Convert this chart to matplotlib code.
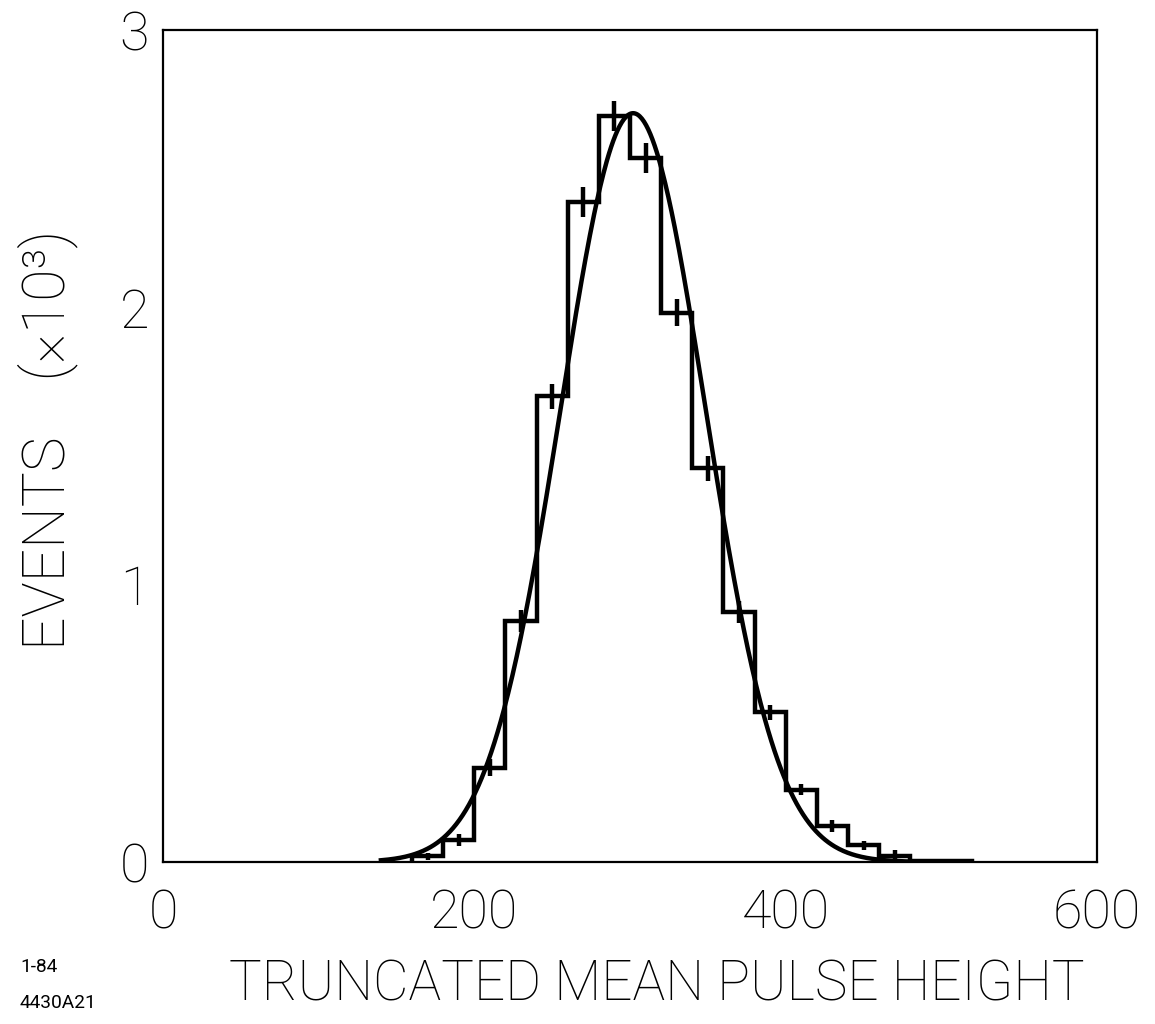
import numpy as np
import matplotlib
matplotlib.use("Agg")
import matplotlib.pyplot as plt
from matplotlib import font_manager as fm

# Pick a narrow/light sans face for the lettering
_names = {f.name for f in fm.fontManager.ttflist}
if "Liberation Sans Narrow" in _names:
    FONT = dict(family=["Liberation Sans Narrow", "DejaVu Sans"])
    NOTE_FONT = dict(FONT)
elif "Roboto" in _names:
    FONT = dict(family=["Roboto", "DejaVu Sans"], weight="light")
    NOTE_FONT = dict(family=["Roboto", "DejaVu Sans"], weight="normal")
else:
    FONT = dict(family=["DejaVu Sans"], stretch="condensed")
    NOTE_FONT = dict(FONT)

# Histogram of truncated mean pulse height (counts in units of 10^3 events)
bin_edges = [160, 180, 200, 220, 240, 260, 280, 300, 320, 340,
             360, 380, 400, 420, 440, 460, 480, 500, 520]
counts = [0.02, 0.08, 0.34, 0.87, 1.68, 2.38, 2.69, 2.54, 1.98,
          1.42, 0.90, 0.54, 0.26, 0.13, 0.06, 0.02, 0.005, 0.005]

# Statistical errors on the first 16 bins
err_centers = [170, 190, 210, 230, 250, 270, 290, 310,
               330, 350, 370, 390, 410, 430, 450, 470]
errors = [0.012, 0.022, 0.030, 0.040, 0.045, 0.054, 0.055, 0.054,
          0.049, 0.045, 0.040, 0.027, 0.020, 0.022, 0.015, 0.022]

# Gaussian fit parameters
fit_amp = 2.70
fit_mean = 302.0
fit_sigma = 46.5
fit_range = (140, 480)

x_ticks = [0, 200, 400, 600]
y_ticks = [0, 1, 2, 3]
x_ticklabels = ["0", "200", "400", "600"]
y_ticklabels = ["0", "1", "2", "3"]

W, H = 1155, 1024
fig = plt.figure(figsize=(W / 100, H / 100), dpi=100)
ax = fig.add_axes([0.1411, 0.1582, 0.8087, 0.8125])

ax.stairs(counts, bin_edges, color="black", lw=3.2, baseline=0)

err_vals = counts[:len(err_centers)]
ax.vlines(err_centers,
          [v - e for v, e in zip(err_vals, errors)],
          [v + e for v, e in zip(err_vals, errors)],
          color="black", lw=3.2)

xf = np.linspace(fit_range[0], fit_range[1], 500)
yf = fit_amp * np.exp(-0.5 * ((xf - fit_mean) / fit_sigma) ** 2)
ax.plot(xf, yf, color="black", lw=3.2)

ax.set_xlim(0, 600)
ax.set_ylim(0, 3)

ax.set_xticks(x_ticks)
ax.set_yticks(y_ticks)
ax.set_xticklabels(x_ticklabels, **FONT)
ax.set_yticklabels(y_ticklabels, **FONT)
ax.set_xticks([200, 400], minor=True)
ax.set_yticks([1, 2], minor=True)
ax.tick_params(which="major", length=0, labelsize=43)
ax.tick_params(axis="x", which="major", pad=19)
ax.tick_params(axis="y", which="major", pad=10)
ax.tick_params(which="minor", direction="in", length=24, width=1.4,
               top=True, bottom=True, left=True, right=True)
for s in ax.spines.values():
    s.set_linewidth(1.6)

ylab = fig.text(48 / W, 1 - 440 / H, "EVENTS    (×10³)", fontsize=46,
                rotation=90, ha="center", va="center", **FONT)
xlab = fig.text(657 / W, 1 - 985 / H, "TRUNCATED MEAN PULSE HEIGHT",
                fontsize=46, ha="center", va="center", **FONT)
note1 = fig.text(20 / W, 1 - 967 / H, "1-84", fontsize=15,
                 ha="left", va="center", **NOTE_FONT)
note2 = fig.text(20 / W, 1 - 1003 / H, "4430A21", fontsize=15,
                 ha="left", va="center", **NOTE_FONT)

# Scale lettering so each string spans its intended width
fig.canvas.draw()
rend = fig.canvas.get_renderer()


def fit_size(t, target, vertical=False):
    bb = t.get_window_extent(rend)
    span = bb.height if vertical else bb.width
    t.set_fontsize(t.get_fontsize() * target / span)


fit_size(xlab, 855)
fit_size(ylab, 420, vertical=True)
fit_size(note2, 77)
note1.set_fontsize(note2.get_fontsize())

lbl = ax.get_xticklabels()[1]
bb = lbl.get_window_extent(rend)
tick_fs = lbl.get_fontsize() * 88 / bb.width
ax.tick_params(which="major", labelsize=tick_fs)

fig.savefig("out.png", dpi=100, facecolor="white")
